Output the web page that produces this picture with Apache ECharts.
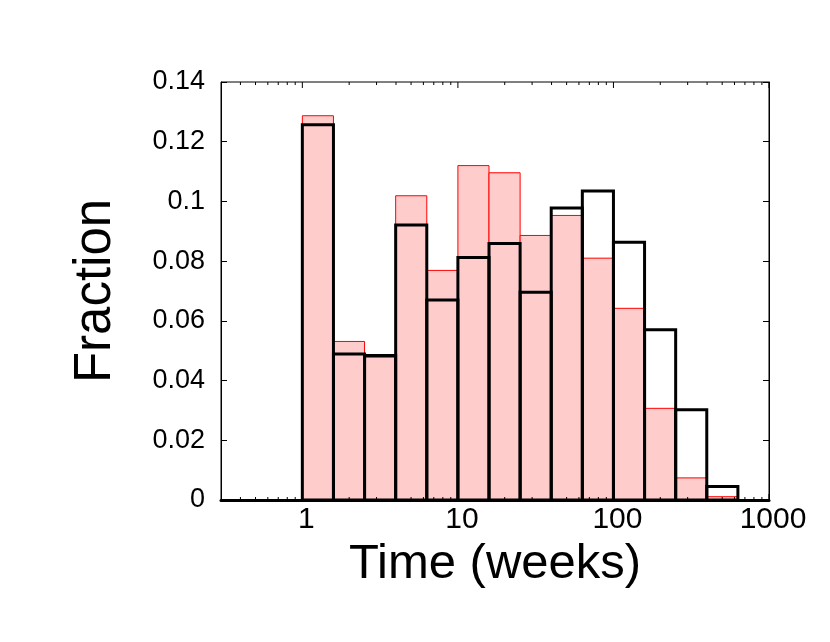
<!DOCTYPE html>
<html>
<head>
<meta charset="utf-8">
<script src="https://cdn.jsdelivr.net/npm/echarts@6/dist/echarts.min.js"></script>
<style>
  html, body { margin: 0; padding: 0; background: #fff; }
  #hist { width: 830px; height: 642px; }
</style>
</head>
<body>
<div id="hist"></div>
<script>
// bin edges (weeks), log spaced
var binLo = [1, 1.585, 2.512, 3.981, 6.310, 10, 15.85, 25.12, 39.81, 63.10, 100, 158.5, 251.2, 398.1];
var binHi = [1.585, 2.512, 3.981, 6.310, 10, 15.85, 25.12, 39.81, 63.10, 100, 158.5, 251.2, 398.1, 631.0];
// filled red histogram
var redFrac = [0.1287, 0.0531, 0.0478, 0.1019, 0.0769, 0.1120, 0.1096, 0.0886, 0.0953, 0.0810, 0.0642, 0.0307, 0.0074, 0.0011];
// black outline histogram
var blackFrac = [0.1257, 0.0489, 0.0484, 0.0921, 0.0670, 0.0812, 0.0859, 0.0696, 0.0978, 0.1035, 0.0863, 0.0570, 0.0302, 0.0045];
// x tick positions
var majorTicks = [1, 10, 100, 1000];
var minorTicks = [0.4, 0.5, 0.6, 0.7, 0.8, 0.9,
                  2, 3, 4, 5, 6, 7, 8, 9,
                  20, 30, 40, 50, 60, 70, 80, 90,
                  200, 300, 400, 500, 600, 700, 800, 900];

var font = "'Liberation Sans', Arial, Helvetica, sans-serif";

function bars(vals) {
  var out = [];
  for (var i = 0; i < vals.length; i++) out.push([binLo[i], binHi[i], vals[i]]);
  return out;
}

var tickData = [];
for (var t of majorTicks) tickData.push([t, 1]);
for (var t of minorTicks) tickData.push([t, 0]);

function histItem(fill, stroke, lw) {
  return function (params, api) {
    var p0 = api.coord([api.value(0), 0]);
    var p1 = api.coord([api.value(1), api.value(2)]);
    return {
      type: 'rect',
      shape: { x: p0[0], y: p1[1], width: p1[0] - p0[0], height: p0[1] - p1[1] },
      style: { fill: fill, stroke: stroke, lineWidth: lw }
    };
  };
}

var chart = echarts.init(document.getElementById('hist'));
chart.setOption({
  animation: false,
  backgroundColor: '#fff',
  grid: {
    left: 221, right: 61, top: 82, bottom: 142,
    show: true, borderColor: '#000', borderWidth: 1, backgroundColor: 'transparent'
  },
  xAxis: {
    type: 'log',
    logBase: 10,
    min: 0.3,
    max: 1000,
    name: 'Time (weeks)',
    nameLocation: 'middle',
    nameGap: 7,
    nameTextStyle: { fontFamily: font, fontSize: 49, color: '#000', verticalAlign: 'top' },
    axisLine: { lineStyle: { color: '#000', width: 3 } },
    axisTick: { show: false },
    splitLine: { show: false },
    axisLabel: {
      margin: 5,
      padding: [0, 0, 0, 8],
      fontFamily: font, fontSize: 30, color: '#000',
      formatter: function (v) {
        var l = Math.log10(v);
        if (Math.abs(l - Math.round(l)) < 1e-6 && Math.round(l) >= 0) return String(Math.round(v));
        return '';
      }
    }
  },
  yAxis: [{
    type: 'value',
    min: 0,
    max: 0.14,
    interval: 0.02,
    name: 'Fraction',
    nameLocation: 'middle',
    nameGap: 100,
    nameRotate: 90,
    nameTextStyle: { fontFamily: font, fontSize: 51, color: '#000' },
    axisLine: { show: true, lineStyle: { color: '#000', width: 1 } },
    axisTick: { show: true, inside: true, length: 6, lineStyle: { color: '#000' } },
    splitLine: { show: false },
    axisLabel: {
      margin: 16, fontFamily: font, fontSize: 27, color: '#000',
      formatter: function (v) { return String(+v.toFixed(2)); }
    }
  }, {
    type: 'value',
    position: 'right',
    min: 0,
    max: 0.14,
    interval: 0.02,
    axisLine: { show: true, lineStyle: { color: '#000', width: 1 } },
    axisTick: { show: true, inside: true, length: 6, lineStyle: { color: '#000' } },
    splitLine: { show: false },
    axisLabel: { show: false }
  }],
  series: [{
    name: 'red',
    type: 'custom',
    renderItem: histItem('#ffcccc', '#ff0000', 1),
    encode: { x: [0, 1], y: 2 },
    data: bars(redFrac),
    z: 2
  }, {
    name: 'black',
    type: 'custom',
    renderItem: histItem('none', '#000', 3),
    encode: { x: [0, 1], y: 2 },
    data: bars(blackFrac),
    z: 3
  }, {
    name: 'xticks',
    type: 'custom',
    clip: false,
    silent: true,
    renderItem: function (params, api) {
      var x = api.value(0);
      var len = api.value(1) ? 6 : 3;
      var b = api.coord([x, 0]);
      var t = api.coord([x, 0.14]);
      return {
        type: 'group',
        children: [{
          type: 'line',
          shape: { x1: b[0], y1: b[1], x2: b[0], y2: b[1] - len },
          style: { stroke: '#000', lineWidth: 1 }
        }, {
          type: 'line',
          shape: { x1: t[0], y1: t[1], x2: t[0], y2: t[1] + len },
          style: { stroke: '#000', lineWidth: 1 }
        }]
      };
    },
    encode: { x: 0 },
    data: tickData,
    z: 4
  }]
});
</script>
</body>
</html>
